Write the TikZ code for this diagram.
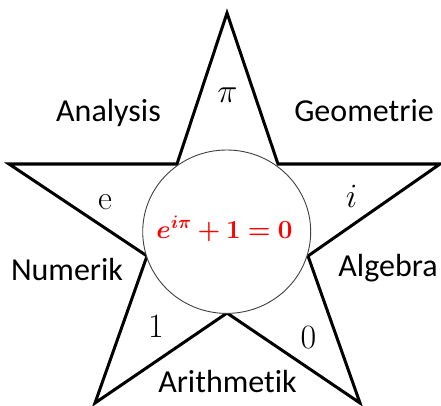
\RequirePackage{fix-cm}
\documentclass[tikz,border=0pt]{standalone}
\usepackage{bm}
\usepackage[no-math]{fontspec}
\setmainfont{Carlito}[Ligatures=NoCommon]
\begin{document}
\begin{tikzpicture}[x=1pt,y=-1pt,
  lbl/.style={font=\fontsize{32}{36}\selectfont, anchor=base, inner sep=0pt},
  sym/.style={font=\fontsize{34}{36}\selectfont, anchor=base, inner sep=0pt},
  starline/.style={line width=3pt, miter limit=10},
  ring/.style={fill=white, draw=black!75, line width=0.9pt}]
\useasboundingbox (0,0) rectangle (441,406);
\draw[starline] (227,13) -- (278,164) -- (440,164) -- (308,256) -- (360,403) -- (227,313) -- (95,403) -- (147,256) -- (9,164) -- (177,164) -- cycle;
\draw[ring] (226.7,231.7) ellipse [x radius=84, y radius=81.7];
\node[font=\fontsize{26}{30}\selectfont, text=red, anchor=base, inner sep=0pt] (euler) at (224.5,238) {$\bm{e^{i\pi}+1=0}$};
\node[lbl] (analysis) at (108.5,122) {Analysis};
\node[lbl] (geometrie) at (364,122) {Geometrie};
\node[lbl] (numerik) at (67,280) {Numerik};
\node[lbl] (algebra) at (388,276) {Algebra};
\node[lbl] (arith) at (227.5,392) {Arithmetik};
\node[sym] (pi) at (227.5,103) {$\pi$};
\node[sym] (e) at (105,209) {$\mathrm{e}$};
\node[sym] (i) at (351.5,207) {$i$};
\node[sym] (one) at (156,337) {$1$};
\node[sym] (zero) at (308.5,348) {$0$};
\end{tikzpicture}
\end{document}
